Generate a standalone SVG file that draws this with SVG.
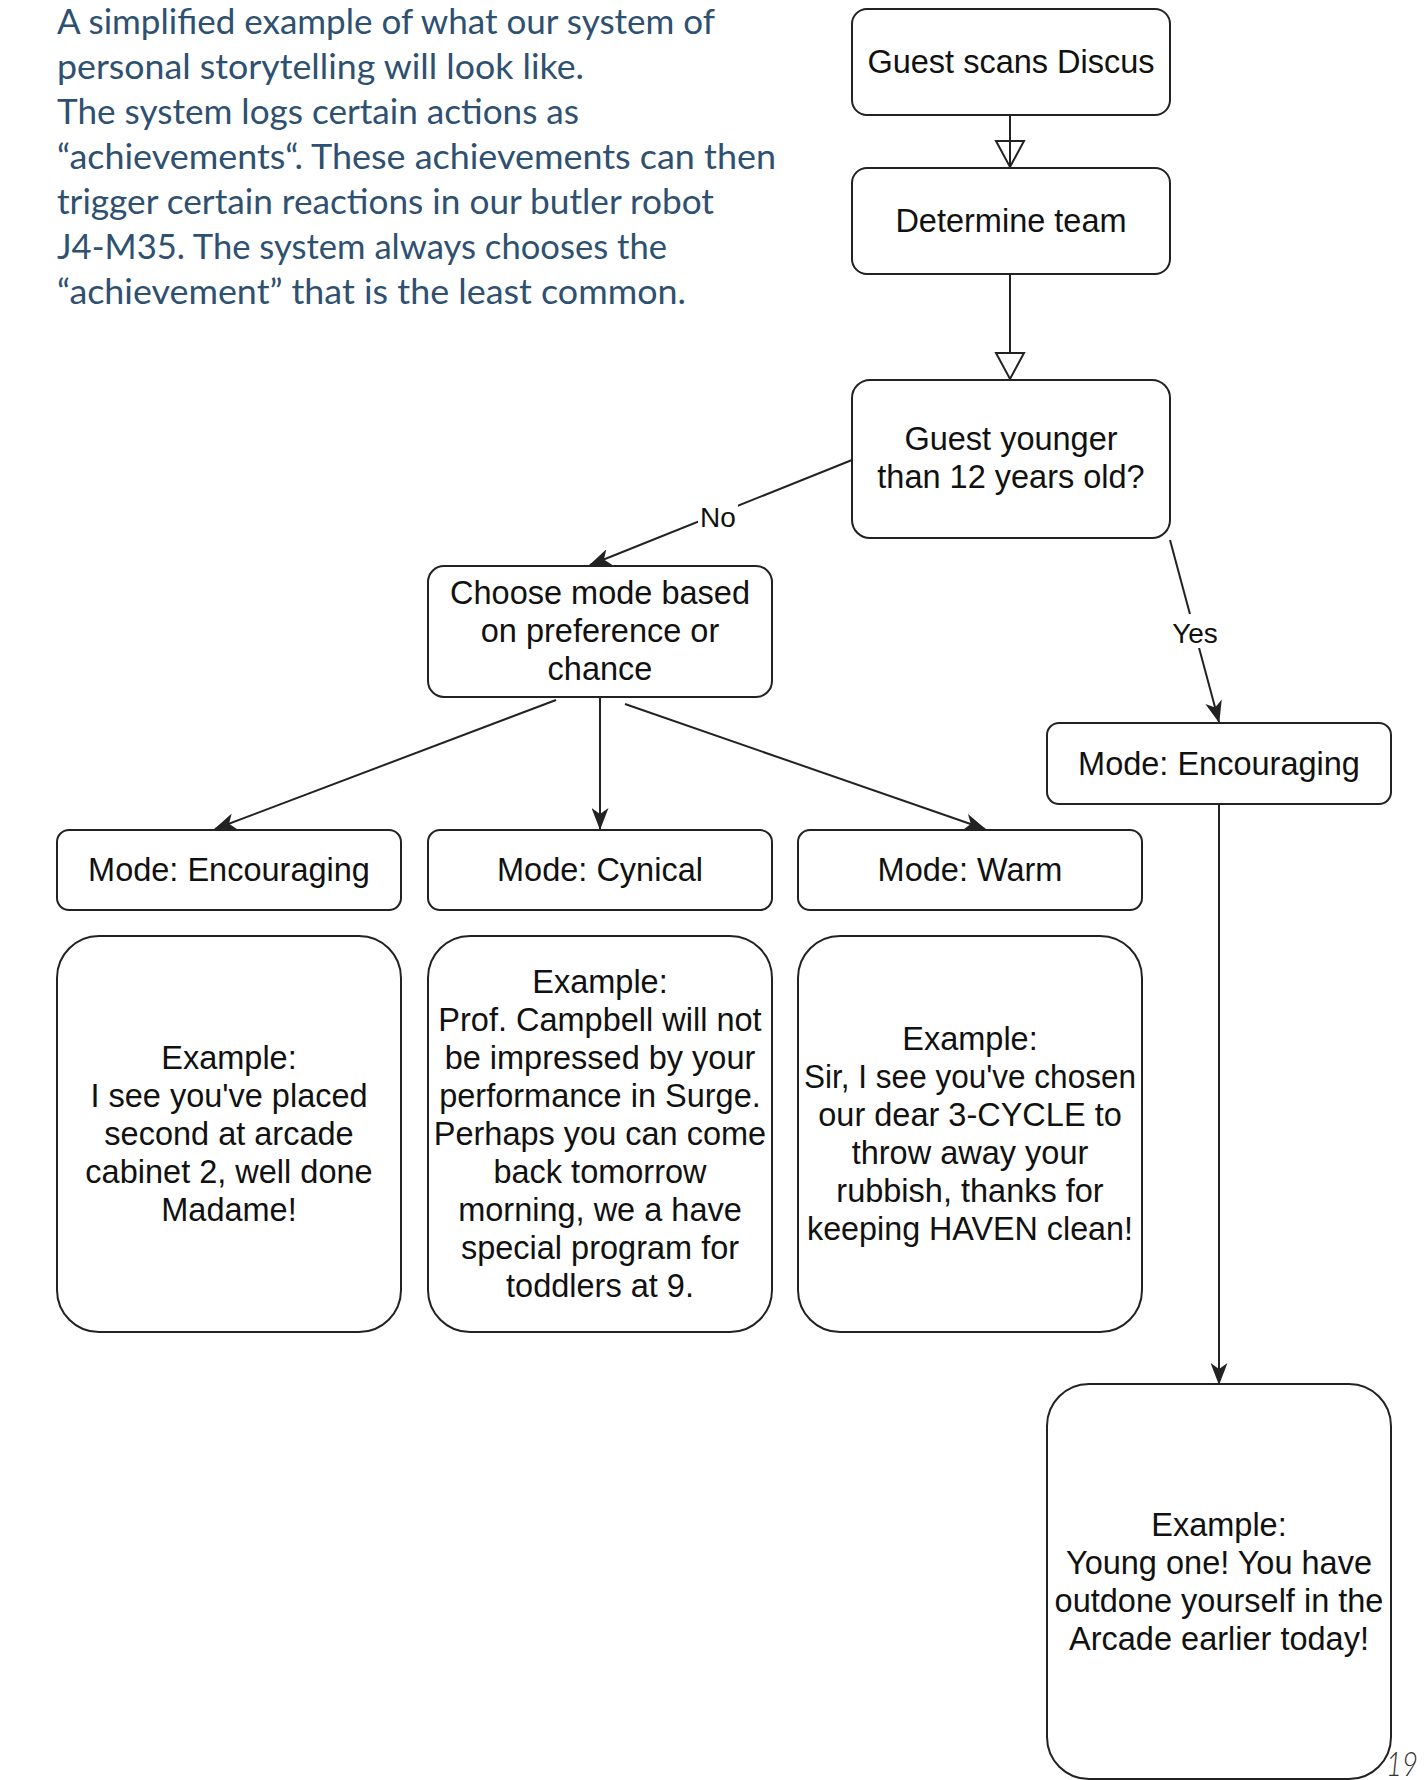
<svg xmlns="http://www.w3.org/2000/svg" width="1424" height="1780" viewBox="0 0 1424 1780">
<defs>
<style>
.hdr{font-family:Lato,"Open Sans",sans-serif;font-size:35px;fill:#2e5071}
.box{fill:#ffffff;stroke:#222222;stroke-width:2}
.t{font-family:"Liberation Sans",Arial,sans-serif;font-size:32.5px;fill:#111111;text-anchor:middle}
.lbl{font-family:"Liberation Sans",Arial,sans-serif;font-size:28px;fill:#111111;text-anchor:middle}
.edge{fill:none;stroke:#222222;stroke-width:2}
.open{fill:#ffffff;stroke:#222222;stroke-width:2}
.pg{font-family:Lato,"Open Sans",sans-serif;font-size:34px;font-style:italic;font-weight:300;fill:#333333}
</style>
<marker id="arr" markerUnits="userSpaceOnUse" viewBox="0 0 22 17" markerWidth="22" markerHeight="17" refX="21" refY="8.5" orient="auto">
<path d="M0,0 L22,8.5 L0,17 L6,8.5 Z" fill="#222222"/>
</marker>
</defs>
<rect width="1424" height="1780" fill="#ffffff"/>

<g id="intro">
<text class="hdr" x="57" y="34" textLength="658" lengthAdjust="spacingAndGlyphs">A simplified example of what our system of</text>
<text class="hdr" x="57" y="79" textLength="527" lengthAdjust="spacingAndGlyphs">personal storytelling will look like.</text>
<text class="hdr" x="57" y="124" textLength="522" lengthAdjust="spacingAndGlyphs">The system logs certain actions as</text>
<text class="hdr" x="57" y="169" textLength="719" lengthAdjust="spacingAndGlyphs">“achievements“. These achievements can then</text>
<text class="hdr" x="57" y="214" textLength="657" lengthAdjust="spacingAndGlyphs">trigger certain reactions in our butler robot</text>
<text class="hdr" x="57" y="259" textLength="610" lengthAdjust="spacingAndGlyphs">J4-M35. The system always chooses the</text>
<text class="hdr" x="57" y="304" textLength="629" lengthAdjust="spacingAndGlyphs">“achievement” that is the least common.</text>
</g>

<g id="connectors">
<line class="edge" x1="1010" y1="115" x2="1010" y2="167"/>
<polygon class="open" points="996,141 1024,141 1010,167"/>
<line class="edge" x1="1010" y1="167" x2="1010" y2="141"/>
<line class="edge" x1="1010" y1="274" x2="1010" y2="353"/>
<polygon class="open" points="996,353 1024,353 1010,379"/>
<line class="edge" x1="852" y1="460" x2="590" y2="565" marker-end="url(#arr)"/>
<rect x="698" y="500" width="40" height="30" fill="#ffffff"/>
<text class="lbl" x="718" y="527">No</text>
<line class="edge" x1="556" y1="700" x2="215" y2="829" marker-end="url(#arr)"/>
<line class="edge" x1="600" y1="697" x2="600" y2="829" marker-end="url(#arr)"/>
<line class="edge" x1="625" y1="704" x2="985" y2="829" marker-end="url(#arr)"/>
<line class="edge" x1="1170" y1="540" x2="1219" y2="722" marker-end="url(#arr)"/>
<rect x="1170" y="614" width="50" height="34" fill="#ffffff"/>
<text class="lbl" x="1195" y="643">Yes</text>
<line class="edge" x1="1219" y1="804" x2="1219" y2="1384" marker-end="url(#arr)"/>
</g>

<g id="guest-scans">
<rect class="box" x="852" y="9" width="318" height="106" rx="15"/>
<text class="t" x="1011" y="73">Guest scans Discus</text>
</g>
<g id="determine-team">
<rect class="box" x="852" y="168" width="318" height="106" rx="15"/>
<text class="t" x="1011" y="232">Determine team</text>
</g>
<g id="younger">
<rect class="box" x="852" y="380" width="318" height="158" rx="18"/>
<text class="t" x="1011" y="450">Guest younger</text>
<text class="t" x="1011" y="488">than 12 years old?</text>
</g>
<g id="choose-mode">
<rect class="box" x="428" y="566" width="344" height="131" rx="16"/>
<text class="t" x="600" y="604">Choose mode based</text>
<text class="t" x="600" y="642">on preference or</text>
<text class="t" x="600" y="680">chance</text>
</g>
<g id="mode-encouraging">
<rect class="box" x="57" y="830" width="344" height="80" rx="12"/>
<text class="t" x="229" y="881">Mode: Encouraging</text>
</g>
<g id="mode-cynical">
<rect class="box" x="428" y="830" width="344" height="80" rx="12"/>
<text class="t" x="600" y="881">Mode: Cynical</text>
</g>
<g id="mode-warm">
<rect class="box" x="798" y="830" width="344" height="80" rx="12"/>
<text class="t" x="970" y="881">Mode: Warm</text>
</g>
<g id="mode-encouraging-young">
<rect class="box" x="1047" y="723" width="344" height="81" rx="12"/>
<text class="t" x="1219" y="775">Mode: Encouraging</text>
</g>
<g id="example-encouraging">
<rect class="box" x="57" y="936" width="344" height="396" rx="42"/>
<text class="t" x="229" y="1069">Example:</text>
<text class="t" x="229" y="1107">I see you've placed</text>
<text class="t" x="229" y="1145">second at arcade</text>
<text class="t" x="229" y="1183">cabinet 2, well done</text>
<text class="t" x="229" y="1221">Madame!</text>
</g>
<g id="example-cynical">
<rect class="box" x="428" y="936" width="344" height="396" rx="42"/>
<text class="t" x="600" y="993">Example:</text>
<text class="t" x="600" y="1031">Prof. Campbell will not</text>
<text class="t" x="600" y="1069">be impressed by your</text>
<text class="t" x="600" y="1107">performance in Surge.</text>
<text class="t" x="600" y="1145">Perhaps you can come</text>
<text class="t" x="600" y="1183">back tomorrow</text>
<text class="t" x="600" y="1221">morning, we a have</text>
<text class="t" x="600" y="1259">special program for</text>
<text class="t" x="600" y="1297">toddlers at 9.</text>
</g>
<g id="example-warm">
<rect class="box" x="798" y="936" width="344" height="396" rx="42"/>
<text class="t" x="970" y="1050">Example:</text>
<text class="t" x="970" y="1088" textLength="332" lengthAdjust="spacingAndGlyphs">Sir, I see you've chosen</text>
<text class="t" x="970" y="1126">our dear 3-CYCLE to</text>
<text class="t" x="970" y="1164">throw away your</text>
<text class="t" x="970" y="1202">rubbish, thanks for</text>
<text class="t" x="970" y="1240" textLength="326" lengthAdjust="spacingAndGlyphs">keeping HAVEN clean!</text>
</g>
<g id="example-young">
<rect class="box" x="1047" y="1384" width="344" height="395" rx="42"/>
<text class="t" x="1219" y="1536">Example:</text>
<text class="t" x="1219" y="1574">Young one! You have</text>
<text class="t" x="1219" y="1612">outdone yourself in the</text>
<text class="t" x="1219" y="1650">Arcade earlier today!</text>
</g>
<g id="page-number">
<text class="pg" x="1386" y="1776" textLength="32" lengthAdjust="spacingAndGlyphs">19</text>
</g>
</svg>
